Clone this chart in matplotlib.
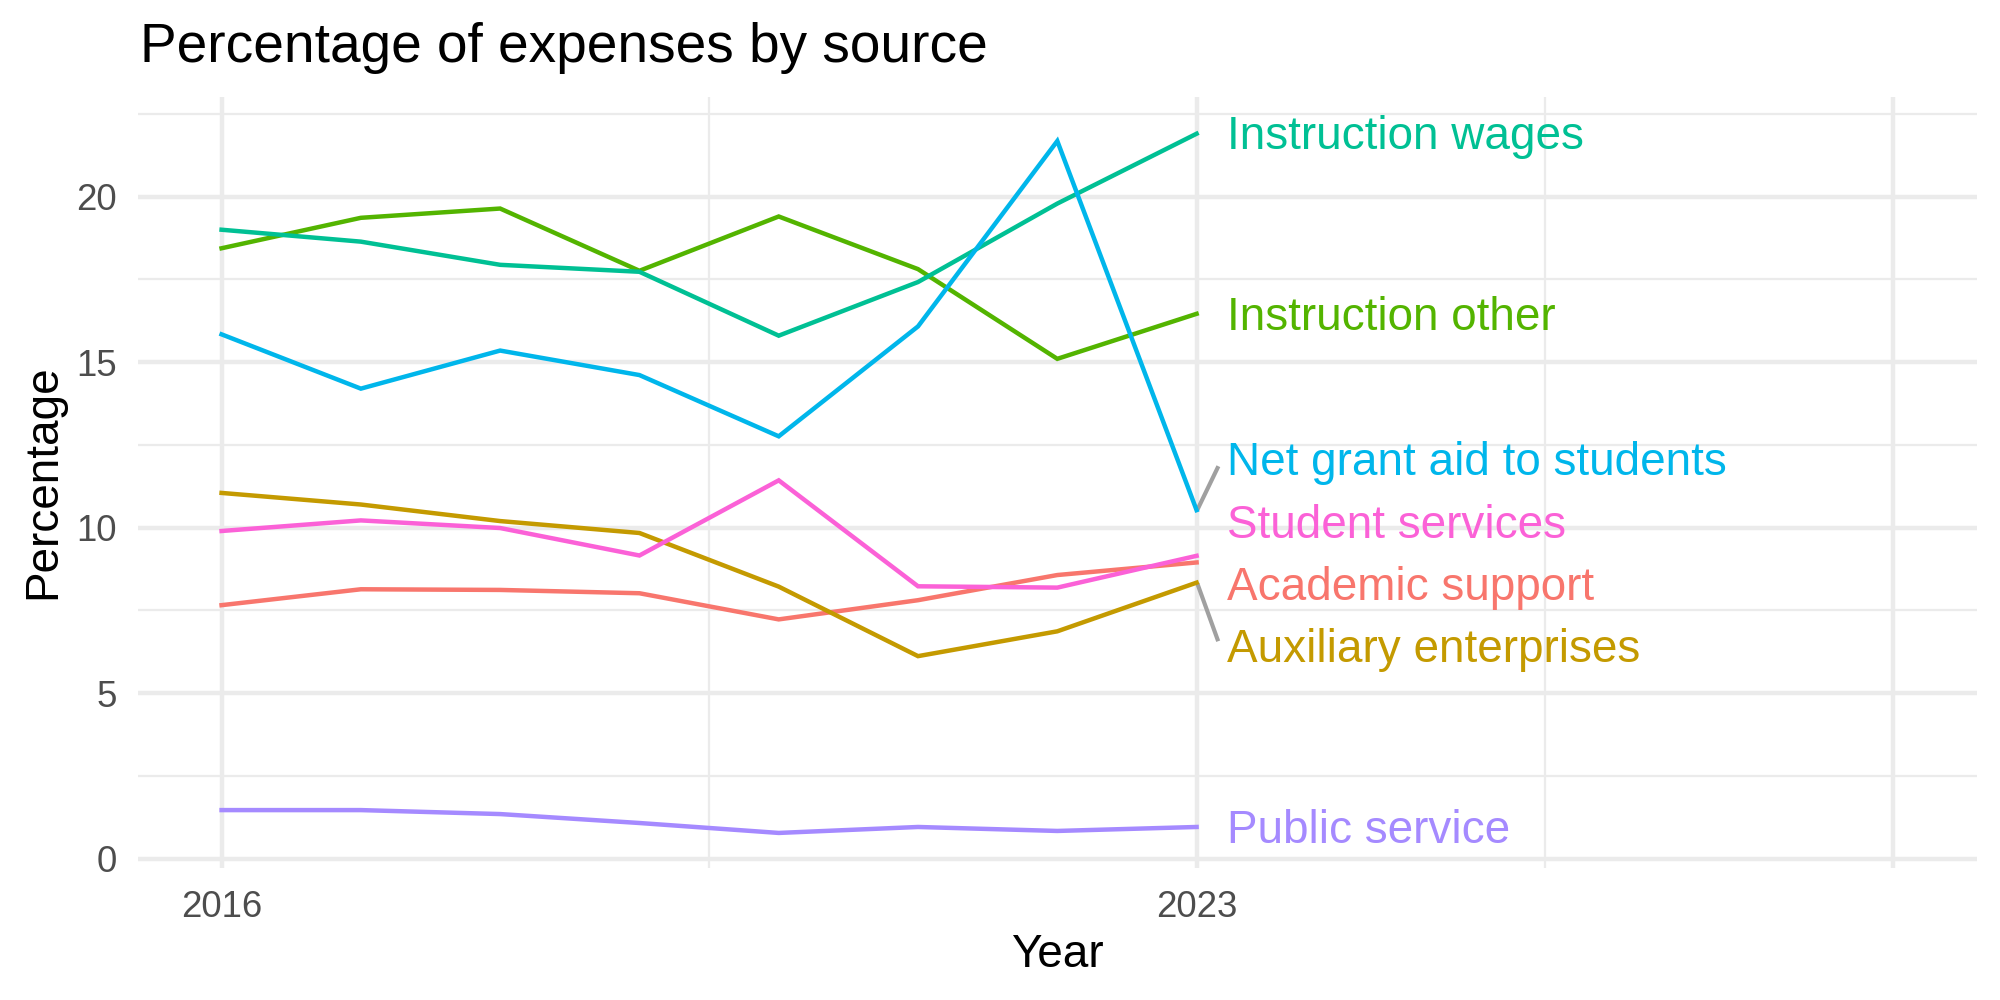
import matplotlib
matplotlib.use("Agg")
import matplotlib.pyplot as plt

plt.rcParams['font.family'] = ['Liberation Sans', 'DejaVu Sans']

# ---- data ----
years = [2016, 2017, 2018, 2019, 2020, 2021, 2022, 2023]
series_names = ["Academic support", "Auxiliary enterprises", "Instruction other",
                "Instruction wages", "Net grant aid to students", "Public service",
                "Student services"]
academic_support = [7.66, 8.14, 8.12, 8.02, 7.23, 7.81, 8.57, 8.95]
auxiliary_enterprises = [11.05, 10.70, 10.20, 9.84, 8.22, 6.12, 6.87, 8.34]
instruction_other = [18.44, 19.36, 19.64, 17.76, 19.40, 17.81, 15.10, 16.46]
instruction_wages = [19.00, 18.64, 17.94, 17.73, 15.80, 17.42, 19.79, 21.90]
net_grant_aid = [15.84, 14.20, 15.35, 14.61, 12.76, 16.08, 21.68, 10.53]
public_service = [1.47, 1.47, 1.35, 1.08, 0.78, 0.96, 0.84, 0.96]
student_services = [9.90, 10.22, 9.99, 9.16, 11.43, 8.23, 8.19, 9.15]
colors = ["#F8766D", "#C49A00", "#53B400", "#00C094", "#00B6EB", "#A58AFF", "#FB61D7"]

# label positions (repelled text labels, baseline y in data units)
label_x = 2023.215
label_y = [7.83, 5.94, 15.98, 21.43, 11.60, 0.49, 9.70]
# connector segments: (x0, y0, x1, y1)
segments = [(2023.01, 10.58, 2023.15, 11.80),
            (2023.01, 8.26, 2023.15, 6.63)]

x_breaks = [2016, 2023, 2028]
x_labels = ["2016", "2023", ""]
x_minor = [2019.5, 2025.5]
y_breaks = [0, 5, 10, 15, 20]
y_minor = [2.5, 7.5, 12.5, 17.5, 22.5]

all_series = [academic_support, auxiliary_enterprises, instruction_other,
              instruction_wages, net_grant_aid, public_service, student_services]

# ---- figure ----
fig = plt.figure(figsize=(2000/300, 1000/300), dpi=300)
ax = fig.add_axes([0.069, 0.1323, 0.9193, 0.7704])

for vals, col in zip(all_series, colors):
    ax.plot(years, vals, color=col, lw=1.07, solid_joinstyle='miter', zorder=3)

for (x0, y0, x1, y1) in segments:
    ax.plot([x0, x1], [y0, y1], color="#A0A0A0", lw=1.0, zorder=2)

for name, col, ly in zip(series_names, colors, label_y):
    ax.text(label_x, ly, name, color=col, fontsize=11.0, ha='left', va='baseline', zorder=4)

ax.set_xlim(2015.4, 2028.6)
ax.set_ylim(-0.27, 23.0)
ax.set_xticks(x_breaks)
ax.set_xticklabels(x_labels)
ax.set_xticks(x_minor, minor=True)
ax.set_yticks(y_breaks)
ax.set_yticklabels([str(v) for v in y_breaks])
ax.set_yticks(y_minor, minor=True)

ax.grid(which='major', color='#EBEBEB', lw=1.07, zorder=0)
ax.grid(which='minor', color='#EBEBEB', lw=0.53, zorder=0)
ax.set_axisbelow(True)
for s in ax.spines.values():
    s.set_visible(False)
ax.tick_params(which='both', length=0)
ax.tick_params(axis='x', pad=5.4, labelsize=8.8, labelcolor='#4D4D4D')
ax.tick_params(axis='y', pad=5.1, labelsize=8.8, labelcolor='#4D4D4D')

fig.text(0.070, 1 - 61.7/1000, "Percentage of expenses by source", fontsize=13.2,
         ha='left', va='baseline', color='black')
fig.text(1057/2000, 1 - 966.7/1000, "Year", fontsize=11, ha='center', va='baseline')
fig.text(55/2000, 1 - 482/1000, "Percentage", fontsize=11, rotation=90,
         rotation_mode='anchor', ha='center', va='baseline')

fig.savefig("out.png", dpi=300, facecolor='white')
